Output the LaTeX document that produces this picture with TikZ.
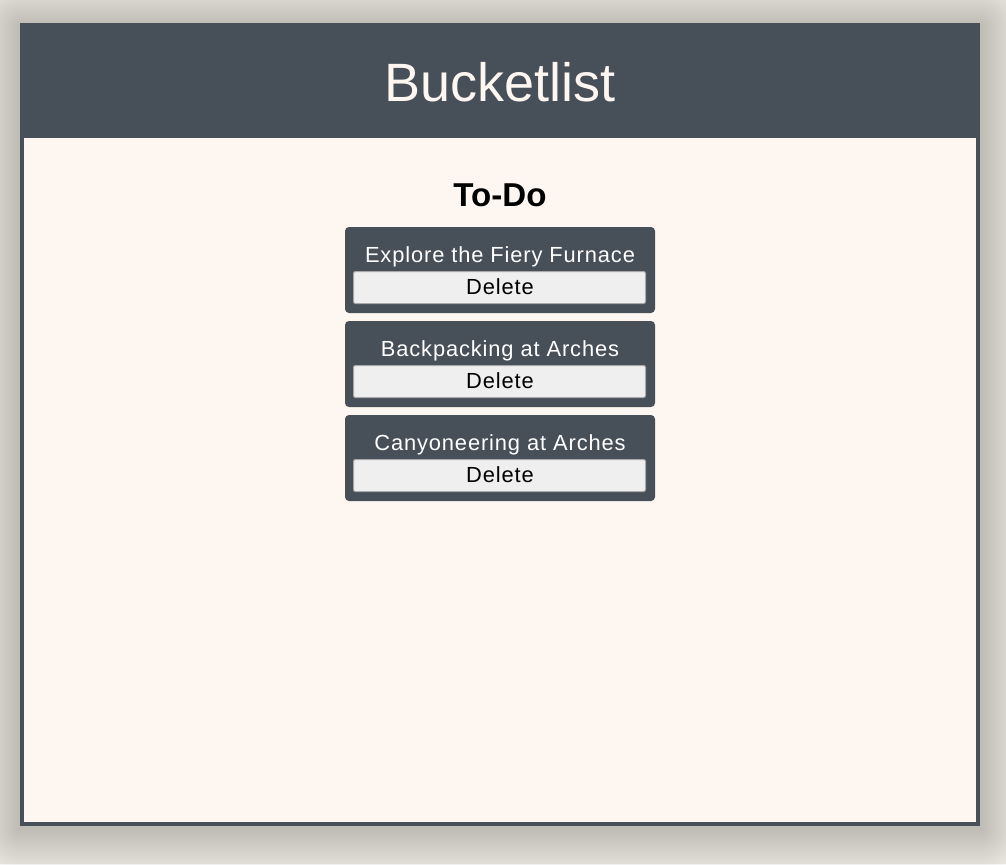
\documentclass[tikz,border=0pt]{standalone}
\usepackage{fontspec}
\setmainfont{Liberation Sans}
\definecolor{bgc}{HTML}{F1EDE7}
\definecolor{slate}{HTML}{474F59}
\definecolor{cream}{HTML}{FEF6F0}
\definecolor{btnfill}{HTML}{EFEFEF}
\definecolor{btnline}{HTML}{A9A9A9}
\tikzset{
  cardbox/.style={fill=slate, rounded corners=3pt, minimum width=232.5pt, minimum height=64.5pt, inner sep=0pt},
  btnbox/.style={fill=btnfill, draw=btnline, line width=0.75pt, rounded corners=1.5pt, minimum width=219pt, minimum height=24pt, inner sep=0pt},
  cardtext/.style={anchor=base, inner sep=0pt, text=white, font=\fontsize{16.4pt}{19pt}\selectfont\addfontfeature{LetterSpace=4}},
  btntext/.style={anchor=base, inner sep=0pt, text=black, font=\fontsize{16.4pt}{19pt}\selectfont\addfontfeature{LetterSpace=4}},
}
\begin{document}
\begin{tikzpicture}[x=0.75pt,y=-0.75pt]
\useasboundingbox (0,0) rectangle (1006,864);
\fill[bgc] (0,0) rectangle (1006,864);
% soft shadow
\foreach \i in {1,...,50}{
  \fill[black,opacity=0.0055,rounded corners=\i*0.75pt] (20-\i,26-\i) rectangle (980+\i,829+\i);
}
% frame
\fill[slate] (20,23) rectangle (980,826);
\fill[cream] (24,138) rectangle (976,822);
\node[anchor=base, inner sep=0pt, text=cream, font=\fontsize{40.5pt}{48pt}\selectfont] (header) at (500,101) {Bucketlist};
\node[anchor=base, inner sep=0pt, text=black, font=\fontsize{24.8pt}{29pt}\selectfont\bfseries] (todo) at (500,206) {To-Do};
% cards
\foreach \n/\y/\t in {1/227/Explore the Fiery Furnace, 2/321/Backpacking at Arches, 3/415/Canyoneering at Arches}{
  \node[cardbox] (card\n) at (500,\y+43) {};
  \node[cardtext] (label\n) at (500,\y+35) {\t};
  \node[btnbox] (btn\n) at (499.5,\y+60.5) {};
  \node[btntext] (del\n) at (500,\y+67) {Delete};
}
\end{tikzpicture}
\end{document}
